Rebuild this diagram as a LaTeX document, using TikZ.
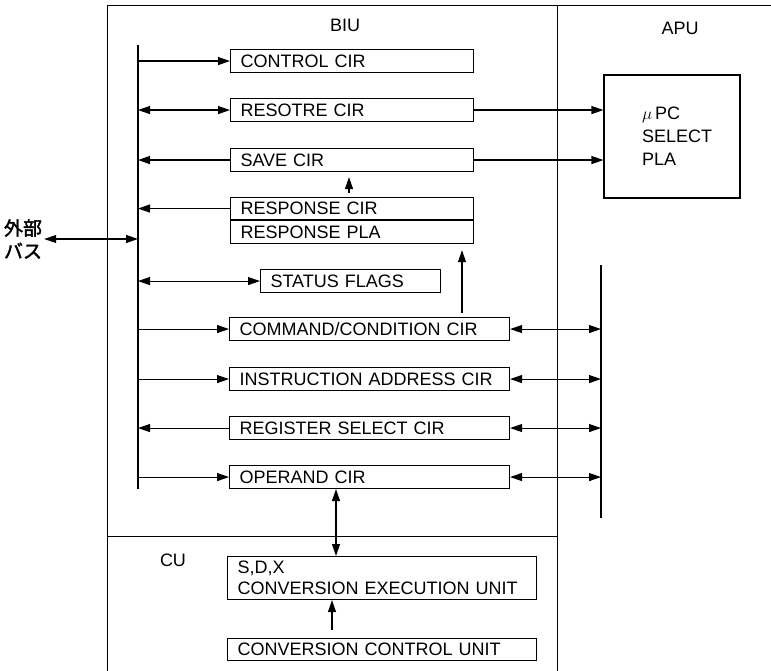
\documentclass[tikz,border=0pt]{standalone}
\usepackage{fontspec}
\setmainfont{Liberation Sans}
\newfontfamily\jpfont[AutoFakeBold=2]{Noto Sans CJK JP}
\usetikzlibrary{positioning,arrows.meta}

\begin{document}
\begin{tikzpicture}[x=1pt, y=-1pt,
  frame/.style={line width=0.8pt, draw=black},
  bus/.style={line width=1.5pt, draw=black},
  reg/.style={draw=black, line width=1.1pt, anchor=north west, minimum height=23pt,
              inner xsep=10pt, inner ysep=0pt, text width=#1, align=left,
              font=\fontsize{18}{21}\selectfont},
  lbl/.style={font=\fontsize{18}{22}\selectfont},
  arr/.style={-{Triangle[length=12pt,width=8pt]}, line width=1.1pt},
  darr/.style={{Triangle[length=12pt,width=8pt]}-{Triangle[length=12pt,width=8pt]}, line width=1.1pt}
]
\useasboundingbox (0,0) rectangle (771,671);

\draw[frame] (107,671) -- (107,5) -- (771,5);
\draw[frame] (557,5) -- (557,671);
\draw[frame] (107,536) -- (557,536);

\node[lbl] (biu) at (345,25) {BIU};
\node[lbl] (apul) at (680,28) {APU};
\node[lbl] (cu) at (173,560) {CU};

\node[reg=223pt] (ctl) at (230,49) {CONTROL CIR};
\node[reg=223pt] (rst) at (230,98) {RESOTRE CIR};
\node[reg=223pt] (sav) at (230,148) {SAVE CIR};
\node[reg=223pt, minimum height=22pt] (rsc) at (230,197) {RESPONSE CIR};
\node[reg=223pt, minimum height=23pt, below=0pt of rsc.south west, anchor=north west] (rpl) {RESPONSE PLA};
\node[reg=160pt] (sts) at (260,269) {STATUS FLAGS};
\node[reg=260pt] (cmd) at (229,317) {COMMAND/CONDITION CIR};
\node[reg=260pt] (ins) at (229,367) {INSTRUCTION ADDRESS CIR};
\node[reg=260pt] (rsl) at (229,416) {REGISTER SELECT CIR};
\node[reg=260pt] (opd) at (229,465) {OPERAND CIR};
\node[reg=289pt, minimum height=43pt] (sdx) at (227,556) {S,D,X\\CONVERSION EXECUTION UNIT};
\node[reg=289pt, minimum height=22pt] (ccu) at (227,638) {CONVERSION CONTROL UNIT};

\node[draw=black, line width=1.1pt, minimum width=136pt, minimum height=123pt,
      inner xsep=38pt, text width=60pt, align=left,
      font=\fontsize{18}{23}\selectfont] (apu) at (672,136.5) {$\mu$\,PC\\SELECT\\PLA};

\node[font=\jpfont\bfseries\fontsize{19}{23}\selectfont, align=center, inner sep=2pt] (ext) at (23,239) {外部\\バス};

\coordinate (bt) at (138,45);
\coordinate (bb) at (138,489);
\coordinate (rt) at (601,265);
\coordinate (rb) at (601,518);
\draw[bus] (bt) -- (bb);
\draw[bus] (rt) -- (rb);

\draw[arr] (ctl.west -| bt) -- (ctl.west);
\draw[darr] (rst.west -| bt) -- (rst.west);
\draw[arr] (sav.west) -- (sav.west -| bt);
\draw[arr] (rsc.west) -- (rsc.west -| bt);
\draw[darr] (ext.east) -- (ext.east -| bt);
\draw[darr] (sts.west -| bt) -- (sts.west);
\draw[arr] (cmd.west -| bt) -- (cmd.west);
\draw[arr] (ins.west -| bt) -- (ins.west);
\draw[arr] (rsl.west) -- (rsl.west -| bt);
\draw[arr] (opd.west -| bt) -- (opd.west);

\foreach \n in {cmd,ins,rsl,opd}
  \draw[darr] (\n.east) -- (\n.east -| rt);

\draw[arr] (rst.east) -- (rst.east -| apu.west);
\draw[arr] (sav.east) -- (sav.east -| apu.west);

\coordinate (up1) at ([xshift=119pt]rsc.north west);
\coordinate (up2) at ([xshift=233pt]cmd.north west);
\coordinate (up3) at ([xshift=107pt]opd.south west);
\coordinate (up4) at ([xshift=105pt]ccu.north west);
\draw[arr, shorten <=4pt, shorten >=5pt] (up1) -- (up1 |- sav.south);
\draw[arr, shorten <=4pt, shorten >=6pt] (up2) -- (up2 |- rpl.south);
\draw[darr] (up3) -- (up3 |- sdx.north);
\draw[arr, shorten <=8pt] (up4) -- (up4 |- sdx.south);
\end{tikzpicture}
\end{document}
